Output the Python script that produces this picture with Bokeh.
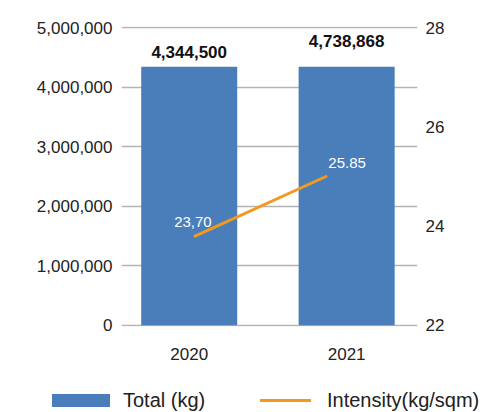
from bokeh.plotting import figure
from bokeh.layouts import column
from bokeh.models import (ColumnDataSource, Range1d, LinearAxis, FixedTicker,
                          NumeralTickFormatter, Div)
from bokeh.embed import file_html
from bokeh.resources import INLINE
from bokeh.core.properties import value

# ---- data ----
years = ["2020", "2021"]
bar_heights = [4344500, 4344500]          # drawn bar heights as they appear
bar_labels = ["4,344,500", "4,738,868"]
intensity = [23.79, 25.01]                  # line as drawn
intensity_labels = ["23,70", "25.85"]
left_ticks = [0, 1000000, 2000000, 3000000, 4000000, 5000000]
right_ticks = [22, 24, 26, 28]
series_names = ["Total (kg)", "Intensity(kg/sqm)"]

FONT = "Liberation Sans"
BLUE = "#4a7ebb"
ORANGE = "#f39a1e"
TXT = "#222222"

x_pos = list(range(len(years)))
line_x = [x_pos[0] + 0.03, x_pos[1] - 0.124]

pad = 20000
p = figure(width=500, height=380, output_backend="svg", toolbar_location=None,
           x_range=Range1d(-0.43, 1.45), y_range=Range1d(-pad, 5000000 + pad),
           min_border_left=121, min_border_right=83, min_border_top=26,
           min_border_bottom=54)
pad_r = pad / 5000000 * 6
p.extra_y_ranges = {"int": Range1d(22 - pad_r, 28 + pad_r)}
p.outline_line_color = None
p.background_fill_color = "white"
p.border_fill_color = "white"

# axes
p.yaxis.ticker = FixedTicker(ticks=left_ticks)
p.yaxis.formatter = NumeralTickFormatter(format="0,0")
p.yaxis.axis_line_color = None
p.yaxis.major_tick_line_color = None
p.yaxis.major_tick_out = 0
p.yaxis.minor_tick_line_color = None
p.yaxis.major_label_text_font = FONT
p.yaxis.major_label_text_font_size = "17px"
p.yaxis.major_label_text_color = TXT
p.yaxis.major_label_standoff = 9

p.xaxis.ticker = FixedTicker(ticks=x_pos)
p.xaxis.major_label_overrides = {i: y for i, y in enumerate(years)}
p.xaxis.axis_line_color = None
p.xaxis.major_tick_line_color = None
p.xaxis.major_tick_out = 0
p.xaxis.minor_tick_line_color = None
p.xaxis.major_label_text_font = FONT
p.xaxis.major_label_text_font_size = "17px"
p.xaxis.major_label_text_color = TXT
p.xaxis.major_label_standoff = 21

ra = LinearAxis(y_range_name="int", ticker=FixedTicker(ticks=right_ticks))
ra.axis_line_color = None
ra.major_tick_line_color = None
ra.major_tick_out = 0
ra.minor_tick_line_color = None
ra.major_label_text_font = FONT
ra.major_label_text_font_size = "17px"
ra.major_label_text_color = TXT
ra.major_label_standoff = 8
p.add_layout(ra, "right")

p.xgrid.grid_line_color = None
p.ygrid.ticker = FixedTicker(ticks=left_ticks)
p.ygrid.grid_line_color = "#b4b4b4"
p.ygrid.grid_line_width = 1.5

# bars
src = ColumnDataSource(dict(x=x_pos, top=bar_heights, lab=bar_labels,
                            yoff=[-15, -26]))
p.vbar(x="x", top="top", width=0.61, source=src, fill_color=BLUE,
       line_color=None)
p.text(x="x", y="top", text="lab", source=src, y_offset="yoff",
       text_align="center", text_baseline="middle",
       text_font=value(FONT), text_font_style="bold",
       text_font_size="17px", text_color="#111111")

# line
lsrc = ColumnDataSource(dict(x=line_x, y=intensity, lab=intensity_labels,
                             xoff=[-1, 20], yoff=[-15, -13]))
p.line(x="x", y="y", source=lsrc, y_range_name="int",
       line_color=ORANGE, line_width=3)
p.text(x="x", y="y", text="lab", source=lsrc, y_range_name="int",
       x_offset="xoff", y_offset="yoff", text_align="center",
       text_baseline="middle", text_font=value(FONT),
       text_font_size="15px", text_color="white")

# ---- legend strip below the chart (HTML) ----
legend_html = (
    f'<div style="position:relative;width:500px;height:32px;'
    f'font-family:\'{FONT}\';font-size:20px;color:{TXT};">'
    f'<div style="position:absolute;left:52px;top:14px;width:58px;height:13px;'
    f'background:{BLUE};"></div>'
    f'<div style="position:absolute;left:123px;top:8px;line-height:24px;'
    f'white-space:nowrap;">{series_names[0]}</div>'
    f'<div style="position:absolute;left:260px;top:19px;width:51px;height:3px;'
    f'background:{ORANGE};"></div>'
    f'<div style="position:absolute;left:327px;top:8px;line-height:24px;'
    f'white-space:nowrap;">{series_names[1]}</div>'
    f'</div>'
)
legend_div = Div(text=legend_html, width=500, height=32, margin=0)

layout = column(p, legend_div, spacing=0)
open("out.html", "w").write(file_html(layout, INLINE))
